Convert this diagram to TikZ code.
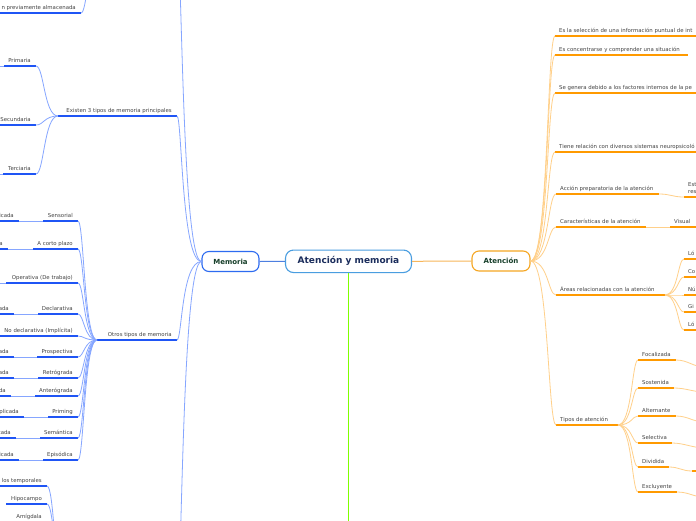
\documentclass[tikz,border=0pt]{standalone}
\usepackage{fontspec}
\setmainfont{DejaVu Sans}
\definecolor{ulb}{HTML}{1F55F5}
\definecolor{cnb}{HTML}{86A6FF}
\definecolor{ulo}{HTML}{FF9A00}
\definecolor{cno}{HTML}{FFD08A}
\definecolor{txc}{HTML}{444444}
\definecolor{ctrb}{HTML}{4A9EE0}
\definecolor{ctrt}{HTML}{1B2D5C}
\definecolor{memb}{HTML}{2D6BF0}
\definecolor{atb}{HTML}{F5A623}
\definecolor{mtx}{HTML}{173F2A}
\definecolor{grn}{HTML}{80FF00}
\definecolor{lnb}{HTML}{4D7FE0}
\definecolor{lno}{HTML}{F7B65A}
\newcommand\TopL[6]{%
  \coordinate (#2-l) at (#3,#5);
  \coordinate (#2-r) at (#4,#5);
  \draw[#1] (#2-l) -- (#2-r);
  \node[txt,anchor=base east] (#2) at (#4-5,#5-4) {#6};}
\newcommand\TopR[6]{%
  \coordinate (#2-l) at (#3,#5);
  \coordinate (#2-r) at (#4,#5);
  \draw[#1] (#2-l) -- (#2-r);
  \node[txt,anchor=base west] (#2) at (#3+4,#5-4) {#6};}
\begin{document}
\begin{tikzpicture}[x=1pt,y=-1pt,
  txt/.style={font=\fontsize{5.4}{7}\selectfont, text=txc, inner sep=0pt},
  bul/.style={draw=ulb, line width=1.5pt},
  oul/.style={draw=ulo, line width=1.5pt},
  bcon/.style={draw=cnb, line width=0.8pt},
  ocon/.style={draw=cno, line width=0.8pt},
  mainbox/.style={draw=#1, line width=1.1pt, rounded corners=7pt, fill=white, inner sep=0pt}]
\useasboundingbox (0,0) rectangle (696,520);
\fill[white] (0,0) rectangle (696,520);
\clip (0,0) rectangle (696,520);

% ---------- main nodes ----------
\node[mainbox=ctrb, minimum width=126pt, minimum height=22.5pt, rounded corners=8pt,
      font=\fontsize{9}{11}\selectfont\bfseries, text=ctrt] (ctr) at (348.5,261.3) {Atención y memoria};
\node[mainbox=memb, minimum width=57pt, minimum height=20pt,
      font=\fontsize{7}{9}\selectfont\bfseries, text=mtx] (mem) at (230.5,261.5) {Memoria};
\node[mainbox=atb, minimum width=58pt, minimum height=20pt,
      font=\fontsize{7}{9}\selectfont\bfseries, text=mtx] (ate) at (501,261) {Atención};
\coordinate (grnend) at (348.5,540);

% ---------- memoria side topics ----------
\TopL{bul}{prev}{-5}{81}{13}{n previamente almacenada}
\TopL{bul}{exi}{58}{177}{116}{Existen 3 tipos de memoria principales}
\TopL{bul}{prim}{4}{36}{66}{Primaria}
\TopL{bul}{secu}{-5}{36}{125}{Secundaria}
\TopL{bul}{terc}{3}{36}{174}{Terciaria}
\TopL{bul}{otr}{97}{177}{340}{Otros tipos de memoria}
\TopL{bul}{sens}{43}{78}{221}{Sensorial}
\TopL{bul}{sensc}{-5}{19}{221}{icada}
\TopL{bul}{acor}{33}{78}{249}{A corto plazo}
\TopL{bul}{acorc}{-5}{8}{249}{a}
\TopL{bul}{oper}{6}{78}{283}{Operativa (De trabajo)}
\TopL{bul}{decl}{38}{78}{314}{Declarativa}
\TopL{bul}{declc}{-5}{14}{314}{ada}
\TopL{bul}{nodec}{-5}{78}{336}{No declarativa (Implícita)}
\TopL{bul}{pros}{37}{78}{357}{Prospectiva}
\TopL{bul}{prosc}{-5}{14}{357}{ada}
\TopL{bul}{retr}{38}{78}{378}{Retrógrada}
\TopL{bul}{retrc}{-5}{14}{378}{ada}
\TopL{bul}{ante}{35}{78}{396}{Anterógrada}
\TopL{bul}{antec}{-5}{11}{396}{da}
\TopL{bul}{prig}{48}{78}{417}{Priming}
\TopL{bul}{prigc}{-5}{24}{417}{plicada}
\TopL{bul}{sema}{40}{78}{438}{Semántica}
\TopL{bul}{semac}{-5}{16}{438}{cada}
\TopL{bul}{epis}{43}{78}{460}{Episódica}
\TopL{bul}{episc}{-5}{19}{460}{icada}
\TopL{bul}{lobt}{-5}{47}{486}{los temporales}
\TopL{bul}{hipo}{6}{47}{504}{Hipocampo}
\TopL{bul}{amig}{2}{47}{522}{Amígdala}
\coordinate (prevpar) at (100,-40);
\coordinate (memtop) at (177,-60);
\coordinate (membot) at (177,600);
\coordinate (lobpar) at (62,570);
\coordinate (primc) at (-10,66);
\coordinate (tercc) at (-10,174);
\coordinate (operc) at (-20,283);

% ---------- atencion side topics ----------
\TopR{oul}{sel}{555}{720}{36}{Es la selección de una información puntual de int}
\TopR{oul}{conc}{555}{688}{55}{Es concentrarse y comprender una situación}
\TopR{oul}{gen}{555}{720}{93}{Se genera debido a los factores internos de la pe}
\TopR{oul}{tie}{555}{720}{152}{Tiene relación con diversos sistemas neuropsicoló}
\TopR{oul}{acc}{556}{659}{194}{Acción preparatoria de la atención}
\coordinate (est-l) at (684,197);
\coordinate (est-r) at (720,197);
\draw[oul] (est-l) -- (est-r);
\node[txt, align=left, anchor=north west] (est) at (688,182) {Est\\res};
\TopR{oul}{car}{556}{646}{227}{Características de la atención}
\TopR{oul}{vis}{670}{720}{227}{Visual}
\TopR{oul}{are}{556}{665}{295}{Áreas relacionadas con la atención}
\TopR{oul}{loa}{684}{720}{259}{Ló}
\TopR{oul}{coa}{684}{720}{277}{Co}
\TopR{oul}{nua}{684}{720}{295}{Nú}
\TopR{oul}{gia}{684}{720}{312}{Gi}
\TopR{oul}{lob}{684}{720}{330}{Ló}
\TopR{oul}{tip}{556}{618}{425}{Tipos de atención}
\TopR{oul}{foc}{638}{676}{360}{Focalizada}
\TopR{oul}{sos}{638}{674}{388}{Sostenida}
\TopR{oul}{alt}{638}{676}{416}{Alternante}
\TopR{oul}{slv}{638}{672}{443}{Selectiva}
\TopR{oul}{dvd}{638}{669}{467}{Dividida}
\TopR{oul}{exc}{638}{677}{492}{Excluyente}
\coordinate (dvdc-l) at (692,471);
\coordinate (dvdc-r) at (720,471);
\draw[oul] (dvdc-l) -- (dvdc-r);
\coordinate (focc) at (705,367);
\coordinate (sosc) at (705,392);
\coordinate (altc) at (705,422);
\coordinate (slvc) at (705,448);
\coordinate (excc) at (705,497);

% ---------- connectors: centre ----------
\draw[draw=lnb, line width=1pt] (ctr.west) -- (mem.east);
\draw[draw=lno, line width=1pt] (ctr.east) -- (ate.west);
\draw[draw=grn, line width=1.6pt] (ctr.south) -- (grnend);

% ---------- connectors: memoria ----------
\foreach \c in {exi-r,otr-r,memtop,membot}
  \draw[bcon] (mem.west) .. controls +(-20,0) and +(5,0) .. (\c);
\draw[bcon] (prevpar) .. controls +(-13,0) and +(6,0) .. (prev-r);
\foreach \c in {prim-r,secu-r,terc-r}
  \draw[bcon] (exi-l) .. controls +(-14,0) and +(8,0) .. (\c);
\foreach \c in {sens-r,acor-r,oper-r,decl-r,nodec-r,pros-r,retr-r,ante-r,prig-r,sema-r,epis-r}
  \draw[bcon] (otr-l) .. controls +(-13,0) and +(6,0) .. (\c);
\foreach \c in {lobt-r,hipo-r,amig-r}
  \draw[bcon] (lobpar) .. controls +(-8,0) and +(7,0) .. (\c);
\draw[bcon] (sens-l) -- (sensc-r);
\draw[bcon] (acor-l) -- (acorc-r);
\draw[bcon] (decl-l) -- (declc-r);
\draw[bcon] (pros-l) -- (prosc-r);
\draw[bcon] (retr-l) -- (retrc-r);
\draw[bcon] (ante-l) -- (antec-r);
\draw[bcon] (prig-l) -- (prigc-r);
\draw[bcon] (sema-l) -- (semac-r);
\draw[bcon] (epis-l) -- (episc-r);
\draw[bcon] (prim-l) -- (primc);
\draw[bcon] (terc-l) -- (tercc);
\draw[bcon] (oper-l) -- (operc);

% ---------- connectors: atencion ----------
\foreach \c in {sel-l,conc-l,gen-l,tie-l,acc-l,car-l,are-l,tip-l}
  \draw[ocon] (ate.east) .. controls +(18,0) and +(-8,0) .. (\c);
\draw[ocon] (acc-r) .. controls +(12,0) and +(-12,0) .. (est-l);
\draw[ocon] (car-r) -- (vis-l);
\foreach \c in {loa-l,coa-l,nua-l,gia-l,lob-l}
  \draw[ocon] (are-r) .. controls +(13,0) and +(-6,0) .. (\c);
\foreach \c in {foc-l,sos-l,alt-l,slv-l,dvd-l,exc-l}
  \draw[ocon] (tip-r) .. controls +(14,0) and +(-6,0) .. (\c);
\draw[ocon] (foc-r) .. controls +(12,0) and +(-12,0) .. (focc);
\draw[ocon] (sos-r) .. controls +(12,0) and +(-12,0) .. (sosc);
\draw[ocon] (alt-r) .. controls +(12,0) and +(-12,0) .. (altc);
\draw[ocon] (slv-r) .. controls +(12,0) and +(-12,0) .. (slvc);
\draw[ocon] (dvd-r) .. controls +(10,0) and +(-10,0) .. (dvdc-l);
\draw[ocon] (exc-r) .. controls +(12,0) and +(-12,0) .. (excc);
\end{tikzpicture}
\end{document}
